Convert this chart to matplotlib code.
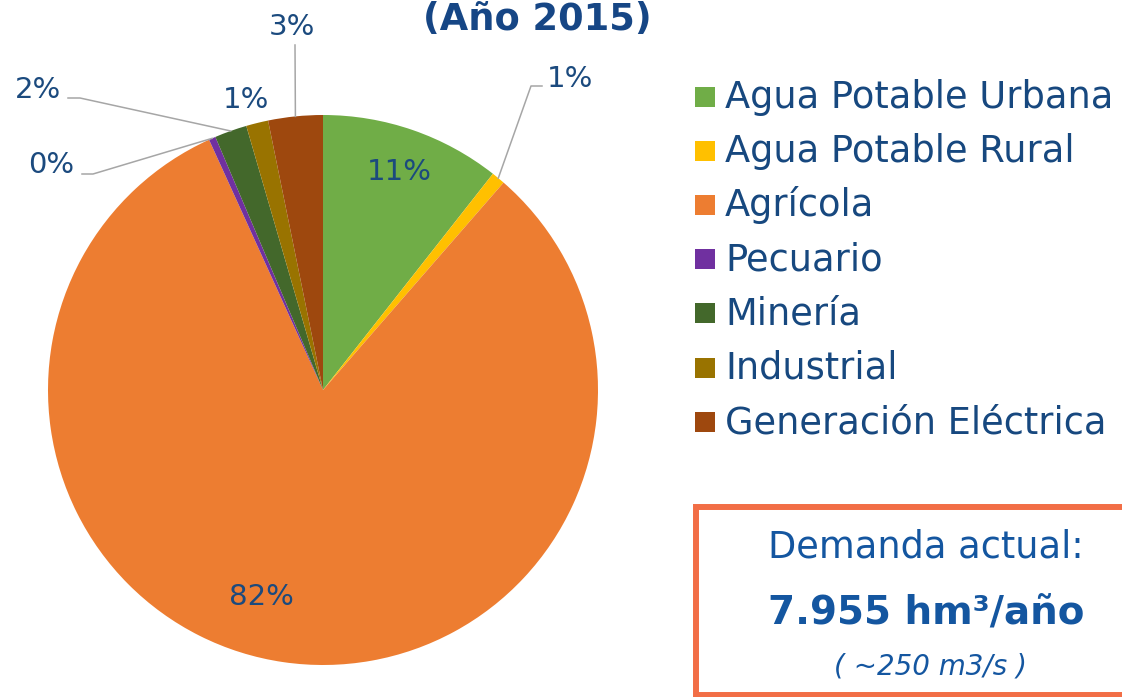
import matplotlib
matplotlib.use("Agg")
import matplotlib.pyplot as plt
from matplotlib.lines import Line2D
from matplotlib.patches import Rectangle
import numpy as np

W, H = 1122, 697

# data
categories = [
    "Agua Potable Urbana",
    "Agua Potable Rural",
    "Agrícola",
    "Pecuario",
    "Minería",
    "Industrial",
    "Generación Eléctrica",
]
shares = [10.6, 0.8, 81.8, 0.4, 1.9, 1.3, 3.2]
colors = ["#70AD47", "#FFC000", "#ED7D31", "#7030A0", "#43682B", "#997300", "#9E480E"]

title = "(Año 2015)"
box_lines = ["Demanda actual:", "7.955 hm³/año", "( ~250 m3/s )"]

LABEL_C = "#1B4A7E"
LEGEND_C = "#17487F"
BOX_C = "#1456A0"
LINE_C = "#A6A6A6"

plt.rcParams["font.family"] = ["DejaVu Sans"]


def fpx(x, y):
    # pixel (top-left origin) -> figure fraction
    return x / W, 1 - y / H


fig = plt.figure(figsize=(W / 100, H / 100), dpi=100)
fig.patch.set_facecolor("white")

cx, cy, r = 323, 390, 275
ax = fig.add_axes([(cx - r) / W, (H - cy - r) / H, 2 * r / W, 2 * r / H])
wedges, _ = ax.pie(shares, colors=colors, startangle=90, counterclock=False,
                   radius=1.0, wedgeprops=dict(linewidth=0))
ax.set_xlim(-1, 1)
ax.set_ylim(-1, 1)
ax.set_aspect("auto")
ax.axis("off")

pct = [f"{round(s):.0f}%" for s in shares]


def edge_point(w):
    mid = np.deg2rad((w.theta1 + w.theta2) / 2)
    d = ax.transData.transform((np.cos(mid), np.sin(mid)))
    return fig.transFigure.inverted().transform(d)


# label placement (pixel positions, baseline) and leader path (elbow, end)
label_pos = {
    0: (399, 180, None),
    1: (570, 87, [(531, 86), (542, 86)]),
    2: (261, 605, None),
    3: (51, 173, [(93, 174), (82, 174)]),
    4: (38, 98, [(80, 98), (68, 98)]),
    5: (246, 108, None),
    6: (292, 35, [(295, 45)]),
}

for i, (x, y, path) in label_pos.items():
    fx, fy = fpx(x, y)
    fig.text(fx, fy, pct[i], ha="center", va="baseline", fontsize=21,
             color=LABEL_C)
    if path:
        start = edge_point(wedges[i])
        pts = [tuple(start)] + [fpx(px, py) for px, py in path]
        xs, ys = zip(*pts)
        fig.add_artist(Line2D(xs, ys, transform=fig.transFigure,
                              color=LINE_C, linewidth=1.1))

# title
tx, ty = fpx(537, 30)
fig.text(tx, ty, title, ha="center", va="baseline", fontsize=26.5,
         fontweight="bold", color="#164685")

# legend
sq = 20
for k, (name, col) in enumerate(zip(categories, colors)):
    yc = 96.5 + k * 54.2
    x0, y0 = fpx(695, yc + sq / 2)
    fig.add_artist(Rectangle((x0, y0), sq / W, sq / H, transform=fig.transFigure,
                             facecolor=col, edgecolor="none"))
    lx, ly = fpx(725, yc + 11.5)
    fig.text(lx, ly, name, ha="left", va="baseline", fontsize=26.5, color=LEGEND_C)

# demand box
bx0, by0 = fpx(696, 694.5)
fig.add_artist(Rectangle((bx0, by0), (1140 - 696) / W, (694.5 - 507) / H,
                         transform=fig.transFigure, facecolor="white",
                         edgecolor="#F26E46", linewidth=4.3))
x, y = fpx(926, 557)
fig.text(x, y, box_lines[0], ha="center", va="baseline", fontsize=26.5, color=BOX_C)
x, y = fpx(926, 625)
fig.text(x, y, box_lines[1], ha="center", va="baseline", fontsize=28,
         fontweight="bold", color=BOX_C)
x, y = fpx(930, 675)
fig.text(x, y, box_lines[2], ha="center", va="baseline", fontsize=20,
         style="italic", color=BOX_C)

fig.savefig("out.png", dpi=100)
